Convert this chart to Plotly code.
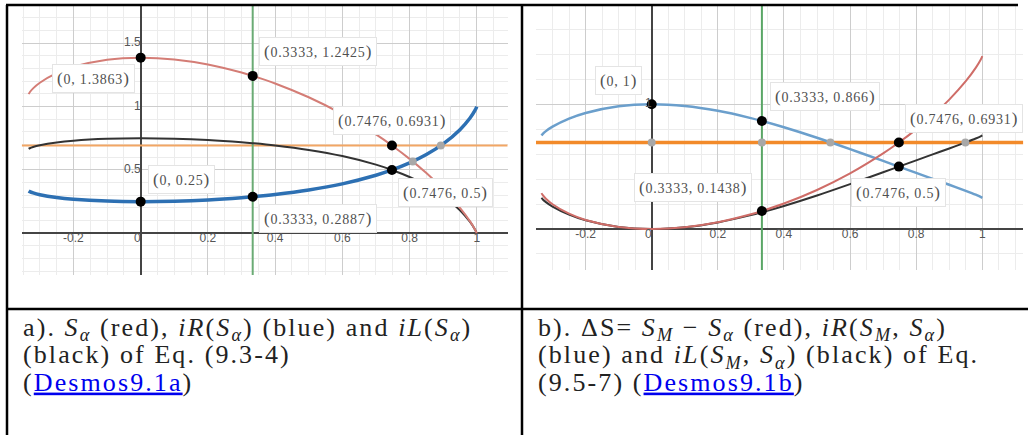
import plotly.graph_objects as go

# Werner-state parameter p (x axis of both Desmos panels)
p_vals = [-0.3333, -0.33, -0.32, -0.30, -0.25, -0.20, -0.10, 0.00, 0.10, 0.20, 0.30, 0.3333,
          0.40, 0.50, 0.60, 0.70, 0.7476, 0.80, 0.85, 0.90, 0.95, 0.98, 0.995, 1.00]

# panel a: S_alpha (red), iR (blue), iL (black)
s_alpha = [1.0986, 1.1134, 1.1436, 1.1880, 1.2638, 1.3139, 1.3701, 1.3863, 1.3722, 1.3322, 1.2687, 1.2425,
           1.1825, 1.0736, 0.9405, 0.7804, 0.6931, 0.5875, 0.4753, 0.3488, 0.2011, 0.0944, 0.0288, 0.0]
ir_a = [0.3333, 0.3284, 0.3186, 0.3048, 0.2826, 0.2688, 0.2541, 0.2500, 0.2536, 0.2639, 0.2812, 0.2887,
        0.3065, 0.3418, 0.3904, 0.4582, 0.5000, 0.5557, 0.6217, 0.7055, 0.8178, 0.9099, 0.9716, 1.0]
il_a = [0.6667, 0.6716, 0.6814, 0.6952, 0.7174, 0.7312, 0.7459, 0.7500, 0.7464, 0.7361, 0.7188, 0.7113,
        0.6935, 0.6582, 0.6096, 0.5418, 0.5000, 0.4443, 0.3783, 0.2945, 0.1822, 0.0901, 0.0284, 0.0]

# panel b: dS = S_M - S_alpha (red), iR (blue), iL (black)
ds_b = [0.2877, 0.2729, 0.2427, 0.1983, 0.1225, 0.0725, 0.0162, 0.0, 0.0141, 0.0541, 0.1176, 0.1438,
        0.2038, 0.3127, 0.4458, 0.6059, 0.6931, 0.7988, 0.9110, 1.0375, 1.1852, 1.2919, 1.3575, 1.3863]
ir_b = [0.7500, 0.7612, 0.7846, 0.8201, 0.8847, 0.9302, 0.9839, 1.0, 0.9860, 0.9473, 0.8890, 0.8660,
        0.8156, 0.7315, 0.6403, 0.5456, 0.5000, 0.4499, 0.4021, 0.3543, 0.3057, 0.2748, 0.2573, 0.2500]
il_b = [0.2500, 0.2388, 0.2154, 0.1799, 0.1153, 0.0698, 0.0161, 0.0, 0.0140, 0.0527, 0.1110, 0.1340,
        0.1844, 0.2685, 0.3597, 0.4544, 0.5000, 0.5501, 0.5979, 0.6457, 0.6943, 0.7252, 0.7427, 0.7500]

ln2_level = 0.6931
slider_x = 0.3333

# labelled points
pts_a_x = [0, 0.3333, 0.7476, 0.7476, 0, 0.3333]
pts_a_y = [1.3863, 1.2425, 0.6931, 0.5, 0.25, 0.2887]
gray_a_x = [0.8096, 0.893]
gray_a_y = [0.5671, 0.6931]

pts_b_x = [0, 0.3333, 0.7476, 0.3333, 0.7476]
pts_b_y = [1, 0.866, 0.6931, 0.1438, 0.5]
gray_b_x = [0, 0.3333, 0.5404, 0.9488]
gray_b_y = [0.6931, 0.6931, 0.6931, 0.6931]

# axis tick labels
xticks = [-0.2, 0, 0.2, 0.4, 0.6, 0.8, 1]
xtick_text = ["-0.2", "0", "0.2", "0.4", "0.6", "0.8", "1"]
yticks_a = [0.5, 1, 1.5]
ytick_text_a = ["0.5", "1", "1.5"]
yticks_b = [1]
ytick_text_b = ["1"]

# label box offsets in px (dx, dy down) relative to each point
offs_a = [(-47, 21), (65, -24), (0, -25), (54, 23), (41, -22), (65, 22)]
offs_b = [(-33, -24), (63, -24), (65, -24), (-69, -24), (0, 26)]

W, H = 1028, 435
xr_a, yr_a = [-0.354, 1.092], [-0.329, 1.794]
xr_b, yr_b = [-0.35, 1.124], [-0.329, 1.788]

fig = go.Figure()


def curve(x, y, color, width, xa, ya):
    fig.add_trace(go.Scatter(x=x, y=y, mode="lines", line=dict(color=color, width=width, shape="spline"),
                             xaxis=xa, yaxis=ya, hoverinfo="skip"))


# panel a
fig.add_trace(go.Scatter(x=xr_a, y=[ln2_level, ln2_level], mode="lines", line=dict(color="#f2a664", width=2),
                         xaxis="x", yaxis="y", hoverinfo="skip"))
fig.add_trace(go.Scatter(x=[slider_x, slider_x], y=yr_a, mode="lines", line=dict(color="#6aab74", width=2),
                         xaxis="x", yaxis="y", hoverinfo="skip"))
curve(p_vals, il_a, "#333333", 2, "x", "y")
curve(p_vals, s_alpha, "#d47d76", 2, "x", "y")
curve(p_vals, ir_a, "#2d70b3", 3.5, "x", "y")
fig.add_trace(go.Scatter(x=gray_a_x, y=gray_a_y, mode="markers", marker=dict(color="#a8a8a8", size=8),
                         xaxis="x", yaxis="y"))
fig.add_trace(go.Scatter(x=pts_a_x, y=pts_a_y, mode="markers", marker=dict(color="black", size=10),
                         xaxis="x", yaxis="y"))

# panel b
fig.add_trace(go.Scatter(x=xr_b, y=[ln2_level, ln2_level], mode="lines", line=dict(color="#f28a2a", width=3.5),
                         xaxis="x2", yaxis="y2", hoverinfo="skip"))
fig.add_trace(go.Scatter(x=[slider_x, slider_x], y=yr_b, mode="lines", line=dict(color="#5aa666", width=2),
                         xaxis="x2", yaxis="y2", hoverinfo="skip"))
curve(p_vals, ir_b, "#6b9fcc", 2.5, "x2", "y2")
curve(p_vals, il_b, "#333333", 2, "x2", "y2")
curve(p_vals, ds_b, "#cf6d68", 2, "x2", "y2")
fig.add_trace(go.Scatter(x=gray_b_x, y=gray_b_y, mode="markers", marker=dict(color="#a8a8a8", size=8),
                         xaxis="x2", yaxis="y2"))
fig.add_trace(go.Scatter(x=pts_b_x, y=pts_b_y, mode="markers", marker=dict(color="black", size=10),
                         xaxis="x2", yaxis="y2"))

# tick labels sit next to the axes, Desmos style
tick_font = dict(family="Liberation Sans", size=12, color="#555555")
for xa, ya in [("x", "y"), ("x2", "y2")]:
    fig.add_trace(go.Scatter(x=xticks, y=[0] * len(xticks), mode="text", text=xtick_text,
                             textposition=["bottom left" if v == 0 else "bottom center" for v in xticks],
                             textfont=tick_font, xaxis=xa, yaxis=ya, hoverinfo="skip"))
for ticks, labels, xa, ya in [(yticks_a, ytick_text_a, "x", "y"), (yticks_b, ytick_text_b, "x2", "y2")]:
    fig.add_trace(go.Scatter(x=[0] * len(ticks), y=ticks, mode="text", text=labels, textposition="middle left",
                             textfont=tick_font, xaxis=xa, yaxis=ya, hoverinfo="skip"))


def fmt(v):
    return f"{v:g}"


def point_label(x, y, off, xa, ya):
    par = "<span style='font-size:17px'>%s</span>"
    txt = ("<span style='letter-spacing:0.8px'>" + par % "(" + f"{fmt(x)}, {fmt(y)}" + par % ")"
           + "</span>")
    fig.add_annotation(x=x, y=y, xref=xa, yref=ya, text=txt, showarrow=False,
                       xshift=off[0], yshift=-off[1], bgcolor="white", bordercolor="#e4e4e4",
                       borderwidth=1, borderpad=4,
                       font=dict(family="Liberation Serif", size=14, color="#505050"))


for x, y, o in zip(pts_a_x, pts_a_y, offs_a):
    point_label(x, y, o, "x", "y")
for x, y, o in zip(pts_b_x, pts_b_y, offs_b):
    point_label(x, y, o, "x2", "y2")


def axis(rng, dom, major, minor, anchor):
    return dict(range=rng, domain=dom, anchor=anchor, dtick=major, tick0=0, showticklabels=False, ticks="",
                showgrid=True, gridcolor="#cdcdcd", gridwidth=1,
                minor=dict(dtick=minor, tick0=0, showgrid=True, gridcolor="#ececec", gridwidth=1),
                zeroline=True, zerolinecolor="#444444", zerolinewidth=1.6, showline=False, fixedrange=True)


fig.update_layout(
    width=W, height=H, margin=dict(l=0, r=0, t=0, b=0),
    paper_bgcolor="white", plot_bgcolor="white", showlegend=False,
    xaxis=axis(xr_a, [21.7 / W, 507.7 / W], 0.2, 0.05, "y"),
    yaxis=axis(yr_a, [1 - 275 / H, 1 - 6 / H], 0.5, 0.1, "x"),
    xaxis2=axis(xr_b, [536 / W, 1023.3 / W], 0.2, 0.05, "y2"),
    yaxis2=axis(yr_b, [1 - 270 / H, 1 - 6 / H], 1, 0.2, "x2"),
)

# table borders
border = dict(color="black", width=2.5)
for x0, y0, x1, y1 in [(6, 5, 1018, 5), (7, 5, 7, H), (522, 5, 522, H), (7, 309, W, 309)]:
    fig.add_shape(type="line", xref="paper", yref="paper", x0=x0 / W, x1=x1 / W,
                  y0=1 - y0 / H, y1=1 - y1 / H, line=border)

# captions: one text block each; base size 21 sets the 27px line pitch, glyphs drawn at 26px
link = "<span style='color:#0000ee;text-decoration:underline'>%s</span>"
cap_a = [
    "a). <i>S<sub>α</sub></i> (red), <i>iR</i>(<i>S<sub>α</sub></i>) (blue) and <i>iL</i>(<i>S<sub>α</sub></i>)",
    "(black) of Eq. (9.3-4)",
    "(" + link % "Desmos9.1a" + ")",
]
cap_b = [
    "b). ΔS= <i>S<sub>M</sub></i> − <i>S<sub>α</sub></i> (red), <i>iR</i>(<i>S<sub>M</sub></i>, <i>S<sub>α</sub></i>)",
    "(blue) and <i>iL</i>(<i>S<sub>M</sub></i>, <i>S<sub>α</sub></i>) (black) of Eq.",
    "(9.5-7) (" + link % "Desmos9.1b" + ")",
]
big = "<span style='font-size:26px;letter-spacing:2.1px'>%s</span>"
cap_font = dict(family="Liberation Serif", size=21, color="#222222")
for xpx, lines in [(21, cap_a), (536, cap_b)]:
    fig.add_annotation(x=xpx / W, y=1 - 355 / H, xref="paper", yref="paper",
                       text="<br>".join(big % t for t in lines), showarrow=False, align="left",
                       xanchor="left", yanchor="middle", font=cap_font)

# drop the default 8px page margin so the figure sits at the window origin
fig.write_html("out.html", config={"displayModeBar": False},
               post_script="document.body.style.margin='0';")
